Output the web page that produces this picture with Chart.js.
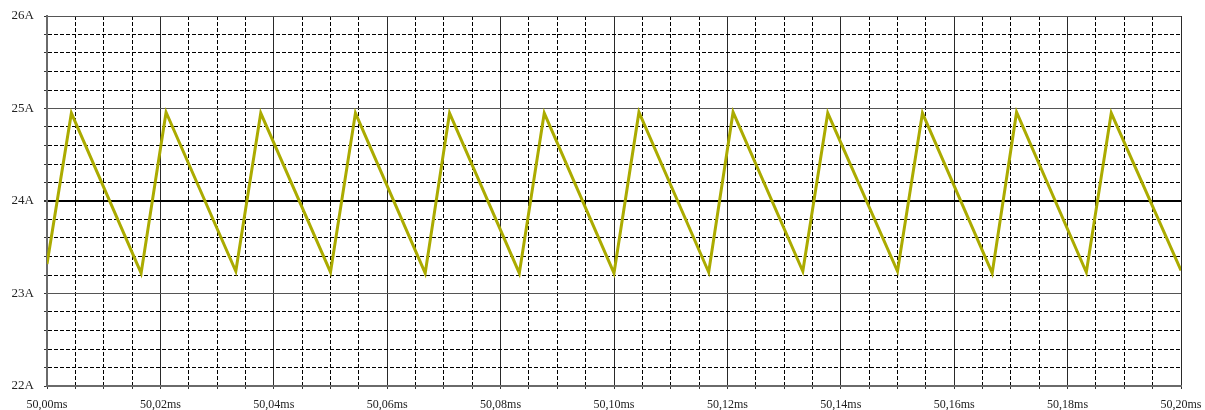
<!DOCTYPE html>
<html>
<head>
<meta charset="utf-8">
<script src="https://cdn.jsdelivr.net/npm/chart.js@4/dist/chart.umd.min.js"></script>
<style>
  html, body { margin: 0; padding: 0; background: #ffffff; }
  #wrap { width: 1205px; height: 410px; position: relative; }
</style>
</head>
<body>
<div id="wrap"><canvas id="c" width="1205" height="410"></canvas></div>
<script>
// Inductor current ripple, vertices of the triangular waveform
const timeMs = [
  50.0000, 50.0043, 50.0166, 50.0210, 50.0333, 50.0377, 50.0500, 50.0544,
  50.0667, 50.0710, 50.0833, 50.0877, 50.1000, 50.1044, 50.1167, 50.1210,
  50.1333, 50.1377, 50.1500, 50.1544, 50.1667, 50.1710, 50.1833, 50.1877,
  50.2000
];
const currentA = [
  23.32, 24.95, 23.22, 24.96, 23.24, 24.95, 23.23, 24.95,
  23.22, 24.95, 23.22, 24.95, 23.22, 24.96, 23.23, 24.96,
  23.24, 24.95, 23.24, 24.95, 23.22, 24.96, 23.23, 24.95,
  23.25
];
const xTickLabels = ['50,00ms', '50,02ms', '50,04ms', '50,06ms', '50,08ms', '50,10ms',
                     '50,12ms', '50,14ms', '50,16ms', '50,18ms', '50,20ms'];
const yTickLabels = ['22A', '23A', '24A', '25A', '26A'];

const X_MIN = 50.0, X_MAX = 50.2, X_MAJOR = 0.02, X_MINOR = 0.005;
const Y_MIN = 22, Y_MAX = 26, Y_MAJOR = 1, Y_MINOR = 0.2;

function majorIndex(v, origin, step) {
  const k = Math.round((v - origin) / step);
  return Math.abs((v - origin) - k * step) < step * 1e-4 ? k : -1;
}
const isMajorX = v => majorIndex(v, X_MIN, X_MAJOR) >= 0;
const isMajorY = v => majorIndex(v, Y_MIN, Y_MAJOR) >= 0;

const points = timeMs.map((t, i) => ({ x: t, y: currentA[i] }));
const serif = '"Liberation Serif", "Times New Roman", serif';

new Chart(document.getElementById('c'), {
  type: 'line',
  data: {
    datasets: [{
      data: points,
      borderColor: '#abab00',
      borderWidth: 3,
      pointRadius: 0,
      tension: 0,
      fill: false
    }]
  },
  options: {
    responsive: false,
    animation: false,
    devicePixelRatio: 1,
    layout: { padding: { left: 0, right: 24, top: 16, bottom: 0 } },
    plugins: { legend: { display: false }, tooltip: { enabled: false } },
    scales: {
      x: {
        type: 'linear',
        min: X_MIN,
        max: X_MAX,
        afterFit: s => { s.height = 24; s.paddingLeft = 0; s.paddingRight = 0; },
        ticks: {
          stepSize: X_MINOR,
          autoSkip: false,
          maxRotation: 0,
          minRotation: 0,
          padding: 9,
          color: '#222222',
          font: { family: serif, size: 12 },
          callback: v => {
            const k = majorIndex(v, X_MIN, X_MAJOR);
            return k >= 0 ? xTickLabels[k] : '';
          }
        },
        grid: {
          drawTicks: true,
          tickLength: 3,
          lineWidth: 1,
          color: ctx => (ctx.tick && isMajorX(ctx.tick.value)) ? '#2a2a2a' : '#000000',
          tickColor: '#333333'
        },
        border: {
          display: true,
          color: '#6a6a6a',
          width: 2,
          dash: ctx => (ctx.tick && !isMajorX(ctx.tick.value)) ? [4, 2] : []
        }
      },
      y: {
        min: Y_MIN,
        max: Y_MAX,
        afterFit: s => { s.width = 47; s.paddingTop = 0; s.paddingBottom = 0; },
        ticks: {
          stepSize: Y_MINOR,
          autoSkip: false,
          padding: 10,
          color: '#222222',
          font: { family: serif, size: 13 },
          callback: v => {
            const k = majorIndex(v, Y_MIN, Y_MAJOR);
            return k >= 0 ? yTickLabels[k] : '';
          }
        },
        grid: {
          drawTicks: true,
          tickLength: 3,
          lineWidth: ctx => (ctx.tick && Math.abs(ctx.tick.value - 24) < 1e-6) ? 2 : 1,
          color: ctx => {
            if (!ctx.tick) return '#000000';
            if (Math.abs(ctx.tick.value - 24) < 1e-6) return '#000000';
            return isMajorY(ctx.tick.value) ? '#555555' : '#000000';
          },
          tickColor: '#333333'
        },
        border: {
          display: true,
          color: '#6a6a6a',
          width: 2,
          dash: ctx => (ctx.tick && !isMajorY(ctx.tick.value)) ? [4, 2] : []
        }
      }
    }
  }
});
</script>
</body>
</html>
